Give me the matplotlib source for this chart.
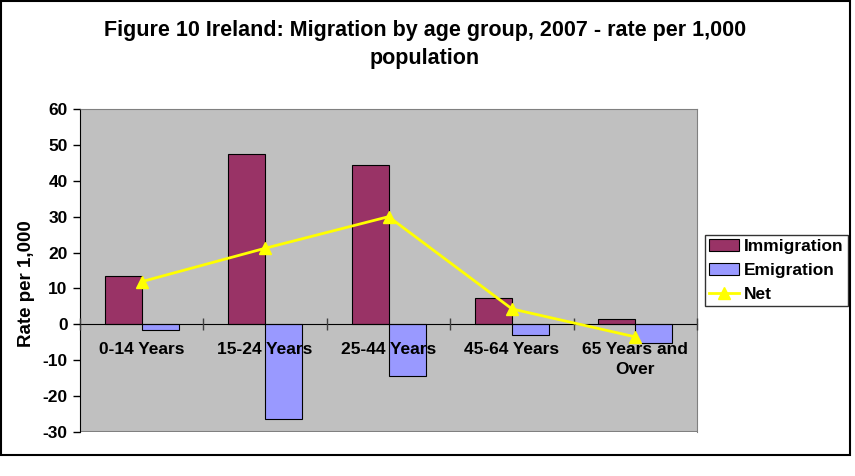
import matplotlib
matplotlib.use("Agg")
import matplotlib.pyplot as plt
import numpy as np
from matplotlib.patches import Rectangle

categories = ["0-14 Years", "15-24 Years", "25-44 Years", "45-64 Years", "65 Years and\nOver"]
immigration = [13.5, 47.5, 44.5, 7.4, 1.6]
emigration = [-1.6, -26.3, -14.5, -3.1, -5.1]
net = [11.9, 21.2, 30.0, 4.3, -3.5]
yticks = [-30, -20, -10, 0, 10, 20, 30, 40, 50, 60]

plt.rcParams["font.family"] = ["Liberation Sans", "DejaVu Sans"]

fig = plt.figure(figsize=(8.55, 4.76), dpi=100)
ax = fig.add_axes([0.0936, 0.0924, 0.7217, 0.6786])
ax.set_facecolor("#C0C0C0")
ax.set_axisbelow(False)

x = np.arange(len(categories))
w = 0.3
b1 = ax.bar(x - w / 2, immigration, w, color="#993366", edgecolor="black", linewidth=0.8,
            label="Immigration", zorder=2)
b2 = ax.bar(x + w / 2, emigration, w, color="#9999FF", edgecolor="black", linewidth=0.8,
            label="Emigration", zorder=2)
ln, = ax.plot(x, net, color="#FFFF00", lw=2, marker="^", markersize=9, label="Net", zorder=3)

ax.set_xlim(-0.5, len(categories) - 0.5)
ax.set_ylim(-30, 60)
ax.set_yticks(yticks)
ax.set_yticklabels([str(v) for v in yticks], fontsize=12.5, fontweight="bold")
ax.tick_params(axis="y", direction="out", length=5, width=1, pad=4)

# category axis crosses at zero
ax.spines["bottom"].set_position(("data", 0))
ax.spines["bottom"].set_color("black")
ax.spines["left"].set_color("black")
for s in ["top", "right"]:
    ax.spines[s].set_color("#808080")
ax.set_xticks(x)
ax.set_xticklabels(categories, fontsize=12.5, fontweight="bold", linespacing=1.35)
ax.tick_params(axis="x", length=0, pad=13)
ax.set_xticks(np.arange(len(categories) + 1) - 0.5, minor=True)
ax.tick_params(axis="x", which="minor", direction="inout", length=8, width=1, color="#404040")

# bottom border of plot area
ax.axhline(-30, color="#808080", lw=1.5, zorder=1)

ax.set_ylabel("Rate per 1,000", fontsize=13.5, fontweight="bold")
ax.yaxis.set_label_coords(-0.073, 0.46)

fig.text(0.497, 0.907, "Figure 10 Ireland: Migration by age group, 2007 - rate per 1,000\npopulation",
         ha="center", va="center", fontsize=15.5, fontweight="bold", linespacing=1.45)

leg = ax.legend([b1, b2, ln], ["Immigration", "Emigration", "Net"],
                loc="center left", bbox_to_anchor=(1.013, 0.5), frameon=True, fancybox=False,
                prop={"weight": "bold", "size": 12.5}, handlelength=1.7, handletextpad=0.3,
                borderpad=0.25, labelspacing=0.5, borderaxespad=0)
leg.get_frame().set_edgecolor("black")
leg.get_frame().set_linewidth(1)

fig.patches.append(Rectangle((0.001, 0.044), 0.993, 0.953, transform=fig.transFigure,
                             fill=False, edgecolor="black", linewidth=1.5))

fig.savefig("out.png", dpi=100)
